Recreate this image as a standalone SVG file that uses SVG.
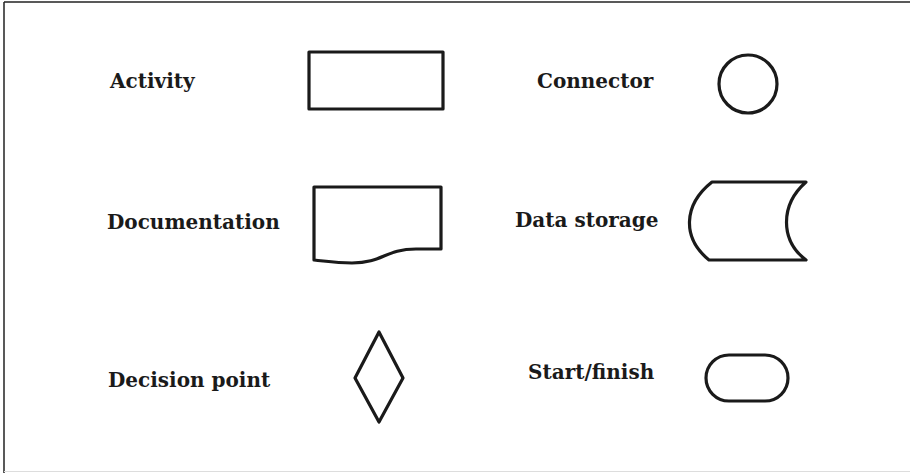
<svg xmlns="http://www.w3.org/2000/svg" width="910" height="473" viewBox="0 0 910 473">
<style>
.shape{fill:#fff;stroke:#1a1a1a;stroke-width:3.2;stroke-linejoin:round}
.lbl{font-family:"DejaVu Serif","Liberation Serif",serif;font-weight:bold;font-size:20px;fill:#1a1a1a}
</style>
<rect x="0" y="0" width="910" height="473" fill="#fff"/>
<g id="frame">
<line x1="4" y1="2" x2="910" y2="2" stroke="#222" stroke-width="1.5"/>
<line x1="4" y1="2" x2="4" y2="473" stroke="#222" stroke-width="1.5"/>
<line x1="4" y1="471.5" x2="910" y2="471.5" stroke="#ddd" stroke-width="1"/>
</g>
<g id="activity">
<text class="lbl" x="110" y="88">Activity</text>
<rect class="shape" x="309" y="52" width="134" height="57"/>
</g>
<g id="connector">
<text class="lbl" x="537" y="88">Connector</text>
<circle class="shape" cx="748" cy="84" r="29"/>
</g>
<g id="documentation">
<text class="lbl" x="107" y="229">Documentation</text>
<path class="shape" d="M314,187 H441 V249 H416 C385,249 383,263 352,263 C335,263 325,261 314,260 Z"/>
</g>
<g id="data-storage">
<text class="lbl" x="515" y="227">Data storage</text>
<path class="shape" d="M712,182 H806 C780,205 780,240 806,260 H709 C682,238 683,205 712,182 Z"/>
</g>
<g id="decision-point">
<text class="lbl" x="108" y="387">Decision point</text>
<path class="shape" d="M379,332 L403,378 L379,422 L355,378 Z"/>
</g>
<g id="start-finish">
<text class="lbl" x="528" y="379">Start/finish</text>
<rect class="shape" x="706" y="355" width="82" height="46" rx="23"/>
</g>
<g id="connectors"></g>
</svg>
